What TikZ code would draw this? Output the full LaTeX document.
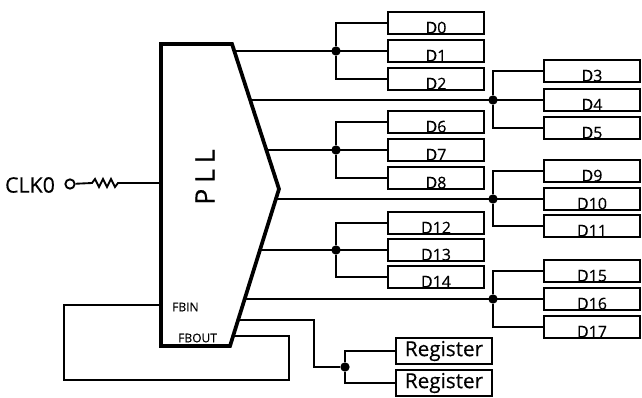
\documentclass[tikz,border=0pt]{standalone}
\usepackage{fontspec}
\setmainfont{Open Sans}[FakeBold=0.35]
\usetikzlibrary{positioning, calc}
\tikzset{
  wire/.style={line width=1.4pt},
  databox/.style={draw, line width=1.6pt, minimum width=72pt, minimum height=16.5pt, inner sep=0pt,
    text height=15.5pt, text depth=0pt, font=\fontsize{12}{12}\selectfont},
  regbox/.style={draw, line width=1.6pt, minimum width=72pt, minimum height=19pt, inner sep=0pt,
    font=\fontsize{15.5}{15.5}\selectfont},
  junction/.style={circle, fill=black, inner sep=0pt, minimum size=7pt},
  pinlabel/.style={inner sep=0pt, font=\fontsize{9}{9}\selectfont},
}
\begin{document}
\begin{tikzpicture}[x=0.75pt, y=-0.75pt]
\useasboundingbox (0,0) rectangle (642,397);

% PLL outline
\draw[line width=2.8pt, line join=miter] (161,44) -- (232,44) -- (279,189) -- (230,346) -- (161,346) -- cycle;
\node[rotate=90, inner sep=0pt, font=\fontsize{20}{20}\selectfont\addfontfeature{LetterSpace=22}] (pll) at (205,177) {PLL};
\node[pinlabel, anchor=west] (fbin) at (172,307) {FBIN};
\node[pinlabel, anchor=west] (fbout) at (178,338) {FBOUT};

% Pins on the slanted edges
\coordinate (pa) at (234,51);
\coordinate (pb) at (250,100);
\coordinate (pc) at (266,150);
\coordinate (pd) at (276,199);
\coordinate (pe) at (260,250);
\coordinate (pf) at (245,299);
\coordinate (pg) at (238,320);
\coordinate (ph) at (233,336);
\coordinate (fbleft) at (161,305);

% Output boxes
\foreach \n/\y in {0/23, 1/51, 2/79, 6/122, 7/150, 8/178, 12/223, 13/250, 14/277} {
  \node[databox] (D\n) at (436,\y) {D\n};
}
\foreach \n/\y in {3/71, 4/100, 5/128, 9/171, 10/199, 11/226, 15/271, 16/299, 17/327} {
  \node[databox] (D\n) at (592,\y) {D\n};
}

% Output banks
\foreach \p/\top/\mid/\bot/\x in {pa/D0/D1/D2/336, pb/D3/D4/D5/493, pc/D6/D7/D8/336,
    pd/D9/D10/D11/493, pe/D12/D13/D14/336, pf/D15/D16/D17/493} {
  \node[junction] (j\mid) at (\x,0 |- \mid.west) {};
  \draw[wire] (\p) -- (\mid.west);
  \draw[wire] (j\mid) |- (\top.west);
  \draw[wire] (j\mid) |- (\bot.west);
}

% Registers
\node[regbox] (rega) at (444,351) {Register};
\node[regbox] (regb) at (444,383) {Register};
\node[junction] (jreg) at (345,367) {};
\draw[wire] (jreg) |- (rega.west);
\draw[wire] (jreg) |- (regb.west);
\draw[wire] (pg) -| (314,367) -- (jreg);

% Feedback loop
\draw[wire] (ph) -| (289,380) -| (64,305) -- (fbleft);

% Clock input
\node[inner sep=0pt, font=\fontsize{16}{16}\selectfont] (clk) at (30,185) {CLK0};
\node[circle, draw, line width=1.4pt, minimum size=7pt, inner sep=0pt] (clkpin) at (70,184) {};
\coordinate (pllin) at (161,183);
\draw[wire] (clkpin) -- (92,183) -- (95,179) -- (99,187) -- (103,179) -- (107,187) -- (111,179) -- (115,187) -- (118,183) -- (pllin);

\end{tikzpicture}
\end{document}
